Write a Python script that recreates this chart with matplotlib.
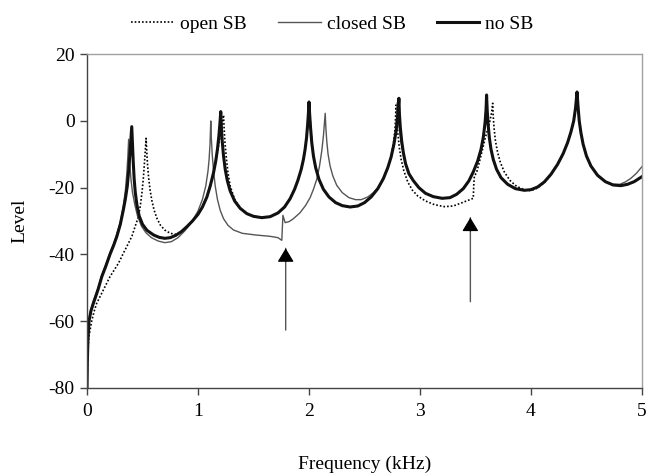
import matplotlib
matplotlib.use("Agg")
import matplotlib.pyplot as plt

plt.rcParams['font.family'] = ['Liberation Serif', 'DejaVu Serif']
plt.rcParams['axes.unicode_minus'] = False

# --- data (frequency in kHz, level) ---
nosb_f = [0, 0.003, 0.008, 0.018, 0.035, 0.057, 0.08, 0.1, 0.133, 0.17, 0.207, 0.24,
          0.268, 0.3, 0.327, 0.345, 0.363, 0.375, 0.385, 0.395, 0.403,
          0.409, 0.416, 0.425, 0.435, 0.45, 0.47, 0.5, 0.54, 0.6, 0.65, 0.7, 0.75,
          0.8, 0.85, 0.9, 0.95, 1.0, 1.04, 1.08, 1.11, 1.14, 1.16, 1.175, 1.188,
          1.198, 1.205, 1.21, 1.218, 1.23, 1.245, 1.265, 1.29, 1.33, 1.38, 1.44,
          1.5, 1.575, 1.65, 1.72, 1.78, 1.83, 1.87, 1.9, 1.93, 1.95, 1.965, 1.978,
          1.988, 1.995, 2.0, 2.006, 2.014, 2.025, 2.04, 2.06, 2.09, 2.13, 2.18,
          2.24, 2.3, 2.37, 2.44, 2.5, 2.56, 2.62, 2.67, 2.71, 2.74, 2.765, 2.785,
          2.8, 2.81, 2.815, 2.823, 2.835, 2.85, 2.87, 2.9, 2.94, 2.99, 3.05, 3.12,
          3.2, 3.27, 3.33, 3.39, 3.44, 3.48, 3.52, 3.55, 3.57, 3.585, 3.595, 3.6,
          3.606, 3.614, 3.625, 3.64, 3.66, 3.69, 3.73, 3.79, 3.86, 3.94, 4.0, 4.06,
          4.12, 4.18, 4.24, 4.29, 4.33, 4.36, 4.385, 4.402, 4.415, 4.425, 4.435,
          4.45, 4.47, 4.5, 4.54, 4.6, 4.67, 4.74, 4.81, 4.87, 4.93, 5.0]
nosb_l = [-80, -72, -66, -60, -57, -54.7, -52.5, -50.5, -46.7, -43.5, -40, -37.3,
          -34.7, -31, -26.7, -23.5, -19.5, -15, -10.5, -5.5, -1.7,
          -6.5, -12, -17.5, -21.5, -25.3, -28.5, -31, -32.8, -34.2, -34.9, -35.2, -35,
          -34.3, -33.2, -31.7, -30, -28, -25.8, -22.8, -19.5, -15.5, -12, -8.5, -4.5,
          -0.5, 2.8, -1.5, -6, -10.5, -14.5, -18, -21, -24, -26.2, -27.8,
          -28.6, -29, -28.7, -27.6, -25.8, -23.3, -20.5, -17.8, -14.5, -11.5, -8.5, -5,
          -1, 2.5, 5.7, 2, -2, -6.5, -10.5, -14, -17.5, -20.5, -22.8,
          -24.5, -25.4, -25.8, -25.5, -24.5, -22.8, -20.3, -17.3, -14, -10.8, -7, -3,
          1.5, 6.8, 2, -2, -6, -9.5, -12.8, -15.8, -17.9, -20, -21.7, -22.7,
          -23.2, -23, -22, -20.3, -18, -15.3, -12, -8.5, -5, -1, 3, 7.8,
          3, -1, -5, -8.5, -11.5, -14.5, -17, -19, -20.3, -20.8, -20.6, -19.8,
          -18.3, -16, -13, -9.8, -6.5, -3.3, 0, 4, 8.7, 4, 0,
          -3.5, -7, -10.5, -13.5, -16.3, -18.2, -19.2, -19.4, -19, -18.2, -16.7]

closed_f = [0, 0.003, 0.008, 0.018, 0.035, 0.057, 0.08, 0.1, 0.133, 0.17, 0.207, 0.24,
            0.268, 0.3, 0.327, 0.345, 0.358, 0.368, 0.375, 0.38, 0.387, 0.396, 0.41,
            0.43, 0.455, 0.49, 0.53, 0.58, 0.64, 0.7, 0.76, 0.82, 0.88, 0.94, 1.0,
            1.04, 1.07, 1.09, 1.1, 1.108, 1.115, 1.12, 1.128, 1.14, 1.155, 1.175,
            1.2, 1.23, 1.27, 1.32, 1.4, 1.52, 1.65, 1.72, 1.755, 1.765, 1.785, 1.82,
            1.86, 1.92, 1.97, 2.01, 2.04, 2.07, 2.095, 2.115, 2.13, 2.14, 2.146,
            2.152, 2.16, 2.172, 2.19, 2.215, 2.25, 2.3, 2.36, 2.42, 2.47, 2.53, 2.58,
            2.62, 2.67, 2.71, 2.74, 2.765, 2.782, 2.795, 2.803, 2.815, 2.83, 2.85,
            2.87, 2.9, 2.94, 2.99, 3.05, 3.12, 3.2, 3.27, 3.33, 3.39, 3.44, 3.48,
            3.52, 3.55, 3.57, 3.582, 3.59, 3.595, 3.602, 3.612, 3.625, 3.64, 3.66,
            3.69, 3.73, 3.79, 3.86, 3.94, 4.0, 4.06, 4.12, 4.18, 4.24, 4.29, 4.33,
            4.36, 4.385, 4.402, 4.413, 4.425, 4.435, 4.45, 4.47, 4.5, 4.54, 4.6,
            4.67, 4.74, 4.8, 4.85, 4.9, 4.95, 5.0]
closed_l = [-80, -71, -65, -59.5, -56.5, -54, -52, -50, -46.3, -43, -39.5, -36.8,
            -34, -30.3, -25.5, -21, -16, -10.5, -5.5, -9, -13.5, -17.5, -21.5,
            -25, -28.5, -31.5, -33.5, -35, -36, -36.5, -36.2, -35, -33, -30.5, -27,
            -23.5, -19.5, -15, -11.5, -7, 0, -5, -10, -15, -19.5, -23.5,
            -26.8, -29.3, -31.3, -32.7, -33.7, -34.2, -34.6, -35, -35.8, -28.3, -30.5, -30.2,
            -29.3, -27.5, -25.3, -23, -20.5, -17.5, -13.5, -9, -4.5, -0.5, 2.3,
            -2, -6, -10, -13.5, -16.5, -19.3, -21.5, -23, -23.6, -23.6, -22.8, -21.5,
            -20.1, -17.3, -14, -10.8, -7, -3, 5.5, 1, -2.5, -6.5, -9.8,
            -12.8, -15.8, -17.9, -20, -21.7, -22.7, -23.2, -23, -22, -20.3, -18, -15.3,
            -12, -8.5, -5, -1, 2.5, 7, 2.5, -1.5, -5, -8.5, -11.5,
            -14.5, -17, -19, -20.3, -20.8, -20.6, -19.8, -18.3, -16, -13, -9.8, -6.5,
            -3.3, 0, 4, 8.3, 4, 0, -3.5, -7, -10.5, -13.5, -16.3,
            -18.2, -19, -19, -18.3, -17.2, -15.7, -13.7]

open_f = [0, 0.004, 0.015, 0.042, 0.065, 0.087, 0.12, 0.15, 0.18, 0.207, 0.245, 0.283,
          0.33, 0.373, 0.405, 0.433, 0.463, 0.48, 0.495, 0.508, 0.518, 0.526, 0.532,
          0.537, 0.545, 0.555, 0.568, 0.585, 0.605, 0.63, 0.66, 0.7, 0.75, 0.8,
          0.85, 0.9, 0.95, 1.0, 1.04, 1.08, 1.11, 1.14, 1.16, 1.18, 1.2, 1.215,
          1.23, 1.235, 1.243, 1.255, 1.27, 1.29, 1.33, 1.38, 1.44, 1.5, 1.575,
          1.65, 1.72, 1.78, 1.83, 1.87, 1.9, 1.93, 1.95, 1.965, 1.978, 1.99, 1.997,
          2.003, 2.009, 2.017, 2.028, 2.043, 2.063, 2.09, 2.13, 2.18, 2.24, 2.3,
          2.37, 2.44, 2.5, 2.56, 2.62, 2.67, 2.71, 2.74, 2.76, 2.775, 2.785, 2.792,
          2.8, 2.812, 2.83, 2.855, 2.89, 2.93, 2.98, 3.05, 3.13, 3.22, 3.3, 3.38,
          3.44, 3.48, 3.485, 3.49, 3.51, 3.53, 3.56, 3.585, 3.61, 3.63, 3.645,
          3.655, 3.66, 3.667, 3.68, 3.7, 3.725, 3.76, 3.81, 3.87, 3.94, 4.0, 4.06,
          4.12, 4.18, 4.24, 4.29, 4.33, 4.36, 4.385, 4.402, 4.415, 4.425, 4.435,
          4.45, 4.47, 4.5, 4.54, 4.6, 4.67, 4.74, 4.81, 4.87, 4.93, 5.0]
open_l = [-80, -72, -65, -60, -57, -54.7, -52.5, -50.5, -48.5, -46.7, -44.7, -42.7,
          -39.5, -36.7, -34.5, -31.7, -28.7, -25.5, -21.5, -17, -12.5, -8.5, -5.2,
          -8.5, -13, -17, -20.7, -24, -26.8, -29.2, -31.2, -32.7, -33.7, -34,
          -33.3, -31.7, -30, -28, -25.8, -22.8, -19.5, -15.5, -12, -8.5, -4.5, -1.5,
          1.8, -2, -6.5, -11, -15.5, -19.5, -23.5, -26.2, -27.8, -28.6, -29,
          -28.7, -27.6, -25.8, -23.3, -20.5, -17.8, -14.5, -11.5, -8.5, -5, -1, 2,
          5.3, 1.5, -2.5, -7, -11, -14.5, -17.5, -20.5, -22.8, -24.5, -25.4,
          -25.8, -25.5, -24.5, -22.8, -20.3, -17.3, -14, -10.5, -7, -2.5, 4.8, 0,
          -3.5, -7.5, -11.5, -15, -18.3, -20.7, -22.5, -24, -25.1, -25.7, -25.5, -24.5,
          -23.7, -23.2, -19, -16.5, -15.5, -13, -9, -5.5, -2.5, 0, 2.5,
          5.3, 1.5, -2, -6, -9.5, -12.5, -15.3, -17.8, -19.6, -20.6, -20.9, -20.1,
          -18.5, -16.2, -13.1, -9.8, -6.5, -3.3, 0, 4, 8.7, 4, 0,
          -3.5, -7, -10.5, -13.5, -16.3, -18.2, -19.2, -19.4, -19, -18.2, -16.7]

# arrows marking the jumps: (frequency, tip level, tail level)
arrows = [(1.79, -38.2, -62.7), (3.454, -29.0, -54.2)]

fig = plt.figure(figsize=(6.47, 4.75), dpi=100)
ax = fig.add_axes([0.1345, 0.1838, 0.8577, 0.7019])

l_open, = ax.plot(open_f, open_l, color='black', lw=1.2, linestyle=(0, (1, 1.2)),
                  label='open SB')
l_closed, = ax.plot(closed_f, closed_l, color='#555555', lw=1.0, label='closed SB')
l_nosb, = ax.plot(nosb_f, nosb_l, color='#111111', lw=2.2, label='no SB')

for f, tip, tail in arrows:
    # grey shaft, solid black head
    ax.annotate('', xy=(f, tip), xytext=(f, tail),
                arrowprops=dict(arrowstyle='-', color='#555555', lw=1.0,
                                shrinkA=0, shrinkB=0))
    ax.annotate('', xy=(f, tip), xytext=(f, tip - 4),
                arrowprops=dict(arrowstyle='-|>,head_length=0.5,head_width=0.3',
                                color='black', lw=0.8,
                                mutation_scale=17, shrinkA=0, shrinkB=0))

ax.set_xlim(0, 5)
ax.set_ylim(-80, 20)
ax.set_xticks([0, 1, 2, 3, 4, 5])
ax.set_yticks([-80, -60, -40, -20, 0, 20])
ax.tick_params(direction='out', length=5, width=1, colors='#444444',
               labelcolor='black', labelsize=14, pad=4)
ax.tick_params(axis='x', pad=6)

for side in ['left', 'bottom']:
    ax.spines[side].set_color('#444444')
    ax.spines[side].set_linewidth(1.0)
for side in ['top', 'right']:
    ax.spines[side].set_color('#a0a0a0')
    ax.spines[side].set_linewidth(1.0)

ax.set_xlabel('Frequency (kHz)', fontsize=14, labelpad=26)
ax.set_ylabel('Level', fontsize=14, labelpad=14)

fig.legend(handles=[l_open, l_closed, l_nosb], loc='upper center',
           bbox_to_anchor=(0.514, 1.005), ncol=3, frameon=False, fontsize=14,
           handlelength=2.2, handletextpad=0.3, columnspacing=1.6)

fig.savefig('out.png', dpi=100)
